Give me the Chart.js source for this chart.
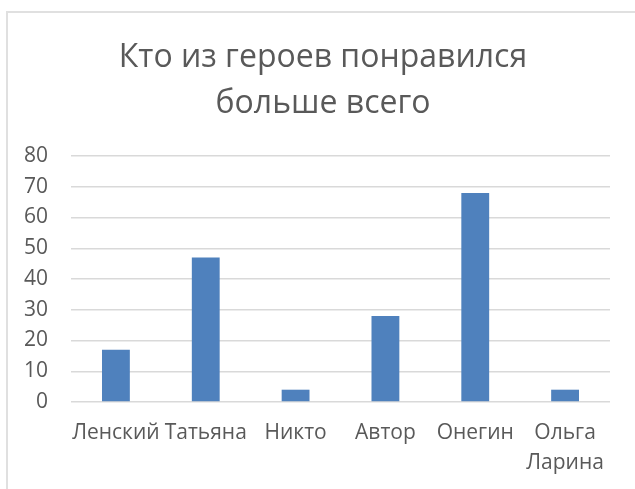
<!DOCTYPE html>
<html>
<head>
<meta charset="utf-8">
<script src="https://cdn.jsdelivr.net/npm/chart.js@4"></script>
<style>
  body { margin: 0; background: #fff; }
  #frame { position: absolute; left: 6px; top: 11px; width: 700px; height: 600px; border: 2px solid #e0e0e0; }
  #wrap { position: absolute; left: 0; top: 0; width: 635px; height: 489px; }
</style>
</head>
<body>
<div id="frame"></div>
<div id="wrap"><canvas id="chart"></canvas></div>
<script>
// -----------------------------
// Data
// -----------------------------
const heroes = ["Ленский", "Татьяна", "Никто", "Автор", "Онегин", ["Ольга", "Ларина"]];
const votes = [17, 47, 4, 28, 68, 4];
const titleLines = ["Кто из героев понравился", "больше всего"];

const textColor = "#595959";
const fontFamily = "'Open Sans', sans-serif";

// -----------------------------
// Chart
// -----------------------------
new Chart(document.getElementById("chart"), {
    type: "bar",
    data: {
        labels: heroes,
        datasets: [{
            data: votes,
            backgroundColor: "#4f81bd",
            categoryPercentage: 1,
            barPercentage: 0.31
        }]
    },
    options: {
        responsive: true,
        maintainAspectRatio: false,
        animation: false,
        // small left padding so the title centre sits where the frame's centre is
        layout: { padding: { left: 11, right: 0, top: 0, bottom: 0 } },
        plugins: {
            legend: { display: false },
            tooltip: { enabled: false },
            title: {
                display: true,
                text: titleLines,
                color: textColor,
                font: { family: fontFamily, size: 32, weight: "normal", lineHeight: 46 / 32 },
                padding: { top: 35, bottom: 29 }
            }
        },
        scales: {
            x: {
                afterFit: (scale) => { scale.height = 87; },
                grid: { display: false, drawTicks: false },
                border: { display: false },
                ticks: {
                    color: textColor,
                    font: { family: fontFamily, size: 21, lineHeight: 30 / 21 },
                    padding: 16,
                    maxRotation: 0,
                    autoSkip: false
                }
            },
            y: {
                min: 0,
                max: 80,
                afterFit: (scale) => { scale.width = 60; },
                grid: { color: "#d9d9d9", lineWidth: 1.5, drawTicks: false },
                border: { display: false },
                ticks: {
                    stepSize: 10,
                    color: textColor,
                    font: { family: fontFamily, size: 21 },
                    padding: 23
                }
            },
            // empty right axis, only keeps space right of the plot
            yRight: {
                position: "right",
                min: 0,
                max: 80,
                afterFit: (scale) => { scale.width = 25; },
                grid: { display: false, drawTicks: false },
                border: { display: false },
                ticks: { display: false }
            }
        }
    }
});
</script>
</body>
</html>
